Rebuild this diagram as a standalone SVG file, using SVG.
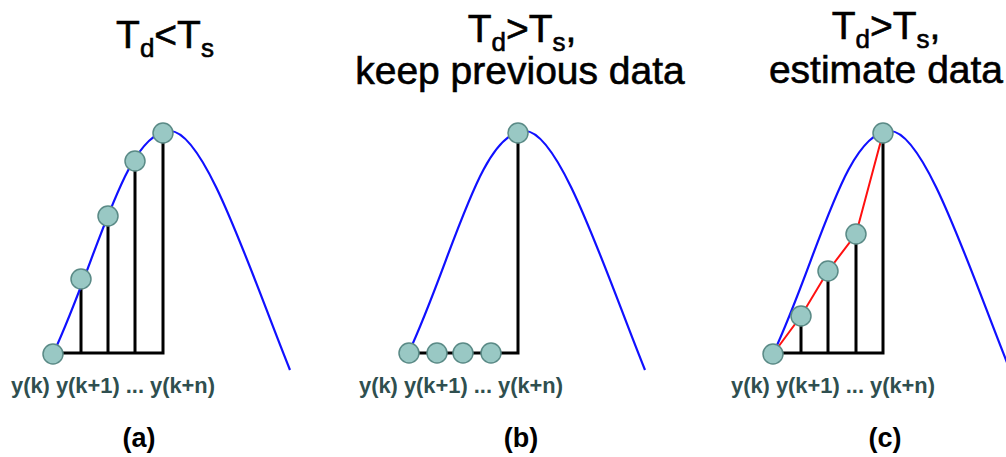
<svg xmlns="http://www.w3.org/2000/svg" xmlns:xlink="http://www.w3.org/1999/xlink" width="1006" height="457" viewBox="0 0 1006 457">
  <style>
    .title { font-family: "Liberation Sans", Arial, sans-serif; font-size: 39px; fill: #000; stroke: #000; stroke-width: 0.6; text-anchor: middle; }
    .sub { font-size: 26px; }
    .lbl { font-family: "Liberation Sans", Arial, sans-serif; font-size: 22px; font-weight: bold; fill: #2f4f4f; }
    .cap { font-family: "Liberation Sans", Arial, sans-serif; font-size: 27px; font-weight: bold; fill: #000; text-anchor: middle; }
    .stem { stroke: #000; stroke-width: 3; fill: none; stroke-linecap: square; }
    .wave { stroke: #1010ff; stroke-width: 2.2; fill: none; }
    .est { stroke: #ff1010; stroke-width: 2; fill: none; }
    .pt { fill: #99c8c4; stroke: #5a8a86; stroke-width: 1.5; }
  </style>
  <defs>
    <path id="wave" d="M-117,223 C-72,127 -45,0 0,0 C35,0 80,139.8 120,239"/>
  </defs>

  <g id="titles">
    <text id="title-a" class="title" x="165" y="47.5">T<tspan class="sub" dy="9">d</tspan><tspan dy="-9">&lt;T</tspan><tspan class="sub" dy="9">s</tspan></text>
    <text id="title-b1" class="title" x="522" y="42">T<tspan class="sub" dy="9">d</tspan><tspan dy="-9">&gt;T</tspan><tspan class="sub" dy="9">s</tspan><tspan dy="-9">,</tspan></text>
    <text id="title-b2" class="title" x="520" y="83.5">keep previous data</text>
    <text id="title-c1" class="title" x="886" y="39">T<tspan class="sub" dy="9">d</tspan><tspan dy="-9">&gt;T</tspan><tspan class="sub" dy="9">s</tspan><tspan dy="-9">,</tspan></text>
    <text id="title-c2" class="title" x="886" y="83">estimate data</text>
  </g>

  <g id="connectors">
    <path class="stem" d="M53,353 H163 M81,279 V353 M108,216 V353 M135,161 V353 M163,133 V353"/>
    <path class="stem" d="M409,353 H518 M518,133 V353"/>
    <path class="stem" d="M773,353 H883 M801,316 V353 M828,271 V353 M856,234 V353 M883,133 V353"/>
    <use href="#wave" xlink:href="#wave" class="wave" x="170" y="131"/>
    <use href="#wave" xlink:href="#wave" class="wave" x="525" y="131"/>
    <use href="#wave" xlink:href="#wave" class="wave" x="890" y="131"/>
    <polyline class="est" points="773,354 801,316 828,271 856,234 883,133"/>
  </g>

  <g id="panel-a">
    <g id="a-p0"><circle class="pt" cx="53" cy="354" r="10"/></g>
    <g id="a-p1"><circle class="pt" cx="81" cy="279" r="10"/></g>
    <g id="a-p2"><circle class="pt" cx="108" cy="216" r="10"/></g>
    <g id="a-p3"><circle class="pt" cx="135" cy="161" r="10"/></g>
    <g id="a-p4"><circle class="pt" cx="163" cy="133" r="10"/></g>
    <text class="lbl" x="11" y="393" textLength="204" lengthAdjust="spacingAndGlyphs">y(k) y(k+1) ... y(k+n)</text>
    <text class="cap" x="139" y="447">(a)</text>
  </g>

  <g id="panel-b">
    <g id="b-p0"><circle class="pt" cx="409" cy="353" r="10"/></g>
    <g id="b-p1"><circle class="pt" cx="437" cy="353" r="10"/></g>
    <g id="b-p2"><circle class="pt" cx="463" cy="353" r="10"/></g>
    <g id="b-p3"><circle class="pt" cx="491" cy="353" r="10"/></g>
    <g id="b-p4"><circle class="pt" cx="518" cy="133" r="10"/></g>
    <text class="lbl" x="359" y="393" textLength="204" lengthAdjust="spacingAndGlyphs">y(k) y(k+1) ... y(k+n)</text>
    <text class="cap" x="521" y="447">(b)</text>
  </g>

  <g id="panel-c">
    <g id="c-p0"><circle class="pt" cx="773" cy="354" r="10"/></g>
    <g id="c-p1"><circle class="pt" cx="801" cy="316" r="10"/></g>
    <g id="c-p2"><circle class="pt" cx="828" cy="271" r="10"/></g>
    <g id="c-p3"><circle class="pt" cx="856" cy="234" r="10"/></g>
    <g id="c-p4"><circle class="pt" cx="883" cy="133" r="10"/></g>
    <text class="lbl" x="731" y="393" textLength="204" lengthAdjust="spacingAndGlyphs">y(k) y(k+1) ... y(k+n)</text>
    <text class="cap" x="885" y="447">(c)</text>
  </g>
</svg>
